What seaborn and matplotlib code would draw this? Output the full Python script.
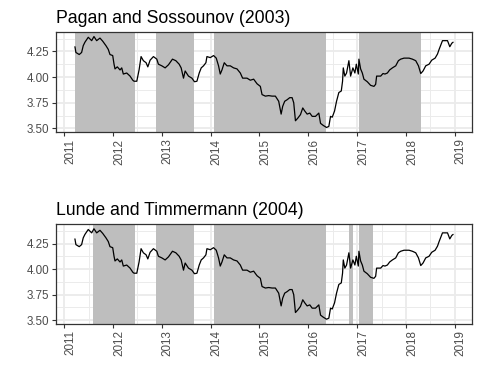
import numpy as np
import pandas as pd
import seaborn as sns
import matplotlib.pyplot as plt

# series (decimal year, value)
years = [2011.220, 2011.240, 2011.308, 2011.357, 2011.390, 2011.425, 2011.493, 2011.563,
         2011.610, 2011.665, 2011.733, 2011.789, 2011.856, 2011.903, 2011.938, 2011.994,
         2012.021, 2012.041, 2012.088, 2012.144, 2012.179, 2012.211, 2012.281, 2012.349,
         2012.405, 2012.431, 2012.487, 2012.534, 2012.575, 2012.622, 2012.678, 2012.713,
         2012.760, 2012.828, 2012.897, 2012.930, 2013.000, 2013.068, 2013.136, 2013.218,
         2013.287, 2013.355, 2013.396, 2013.444, 2013.478, 2013.546, 2013.616, 2013.669,
         2013.719, 2013.766, 2013.807, 2013.854, 2013.903, 2013.924, 2013.992, 2014.060,
         2014.115, 2014.162, 2014.197, 2014.232, 2014.279, 2014.335, 2014.402, 2014.470,
         2014.540, 2014.608, 2014.655, 2014.745, 2014.813, 2014.881, 2014.951, 2015.018,
         2015.053, 2015.121, 2015.189, 2015.259, 2015.326, 2015.394, 2015.444, 2015.476,
         2015.517, 2015.567, 2015.620, 2015.669, 2015.702, 2015.737, 2015.784, 2015.840,
         2015.887, 2015.928, 2015.977, 2016.031, 2016.080, 2016.148, 2016.216, 2016.251,
         2016.306, 2016.374, 2016.421, 2016.456, 2016.491, 2016.538, 2016.579, 2016.626,
         2016.676, 2016.702, 2016.717, 2016.749, 2016.784, 2016.832, 2016.867, 2016.914,
         2016.955, 2016.984, 2017.025, 2017.037, 2017.072, 2017.107, 2017.140, 2017.209,
         2017.277, 2017.345, 2017.380, 2017.400, 2017.483, 2017.530, 2017.571, 2017.620,
         2017.667, 2017.723, 2017.791, 2017.846, 2017.893, 2017.961, 2018.064, 2018.133,
         2018.201, 2018.257, 2018.304, 2018.351, 2018.406, 2018.474, 2018.529, 2018.598,
         2018.647, 2018.680, 2018.749, 2018.852, 2018.899, 2018.940, 2018.967]
values = [4.296, 4.24, 4.22, 4.24, 4.306, 4.34, 4.388, 4.355,
          4.395, 4.355, 4.38, 4.35, 4.306, 4.27, 4.22, 4.21,
          4.126, 4.08, 4.10, 4.07, 4.09, 4.03, 4.04, 4.01,
          3.97, 3.96, 3.96, 4.07, 4.20, 4.16, 4.14, 4.10,
          4.165, 4.20, 4.175, 4.126, 4.11, 4.09, 4.12, 4.175,
          4.16, 4.126, 4.09, 3.99, 4.06, 4.01, 3.99, 3.955,
          3.96, 4.04, 4.09, 4.11, 4.14, 4.20, 4.19, 4.21,
          4.185, 4.11, 4.03, 4.07, 4.14, 4.11, 4.11, 4.09,
          4.08, 4.04, 3.99, 3.99, 3.97, 3.98, 3.935, 3.91,
          3.83, 3.815, 3.82, 3.815, 3.815, 3.765, 3.64, 3.716,
          3.765, 3.78, 3.80, 3.80, 3.75, 3.575, 3.60, 3.635,
          3.70, 3.67, 3.64, 3.65, 3.618, 3.618, 3.65, 3.55,
          3.53, 3.51, 3.52, 3.618, 3.61, 3.67, 3.765, 3.85,
          3.865, 3.96, 4.09, 4.01, 4.04, 4.16, 4.01, 4.09,
          4.04, 4.126, 4.03, 4.175, 4.08, 4.04, 3.98, 3.955,
          3.92, 3.91, 3.93, 4.01, 4.01, 4.035, 4.03, 4.04,
          4.07, 4.09, 4.11, 4.16, 4.175, 4.185, 4.185, 4.175,
          4.16, 4.11, 4.035, 4.06, 4.11, 4.126, 4.165, 4.185,
          4.225, 4.27, 4.355, 4.355, 4.296, 4.33, 4.34]

# shaded phases
ps_start = [2011.22, 2012.88, 2014.06, 2017.04]
ps_end = [2012.45, 2013.66, 2016.37, 2018.30]
lt_start = [2011.58, 2012.88, 2014.06, 2016.83, 2017.04]
lt_end = [2012.45, 2013.66, 2016.37, 2016.92, 2017.32]

titles = ["Pagan and Sossounov (2003)", "Lunde and Timmermann (2004)"]
x_ticks = list(range(2011, 2020))
y_ticks = [3.50, 3.75, 4.00, 4.25]

df = pd.DataFrame({"year": years, "value": values})

sns.set_theme(style="white")
plt.rcParams['font.family'] = ['Liberation Sans', 'DejaVu Sans']

fig = plt.figure(figsize=(4.8, 3.84), dpi=100)
ax1 = fig.add_axes([0.1167, 0.65625, 0.8667, 0.2604])
ax2 = fig.add_axes([0.1167, 0.157, 0.8667, 0.259])

# ggplot-like 5% expansion
xr = df.year.max() - df.year.min()
yr = df.value.max() - df.value.min()
xlim = (df.year.min() - 0.05 * xr, df.year.max() + 0.05 * xr)
ylim = (df.value.min() - 0.05 * yr, df.value.max() + 0.05 * yr)

for ax, title, starts, ends in zip([ax1, ax2], titles, [ps_start, lt_start], [ps_end, lt_end]):
    for s, e in zip(starts, ends):
        ax.axvspan(s, e, color='#BEBEBE', lw=0, zorder=1)
    sns.lineplot(data=df, x="year", y="value", ax=ax, color='black',
                 linewidth=0.9, estimator=None, zorder=3)
    ax.set_xlim(xlim)
    ax.set_ylim(ylim)
    ax.set_xticks(x_ticks)
    ax.set_xticks([t + 0.5 for t in x_ticks[:-1]], minor=True)
    ax.set_yticks(y_ticks)
    ax.set_yticks([t + 0.125 for t in y_ticks], minor=True)
    ax.set_yticklabels([f"{t:.2f}" for t in y_ticks])
    ax.set_xticklabels([str(t) for t in x_ticks], rotation=90, ha='left')
    ax.set_axisbelow(True)
    ax.grid(which='major', color='#EBEBEB', lw=1.35)
    ax.grid(which='minor', color='#EBEBEB', lw=0.7)
    ax.tick_params(which='major', length=2.66, width=0.8, color='#333333', pad=2.1,
                   labelsize=8.4, labelcolor='#4D4D4D', bottom=True, left=True)
    ax.tick_params(which='minor', length=0)
    for sp in ax.spines.values():
        sp.set_color('#333333')
        sp.set_linewidth(0.9)
    ax.set_xlabel('')
    ax.set_ylabel('')
    ax.set_title(title, loc='left', fontsize=12.7, pad=6.5, color='black')

plt.savefig("out.png", dpi=100)
